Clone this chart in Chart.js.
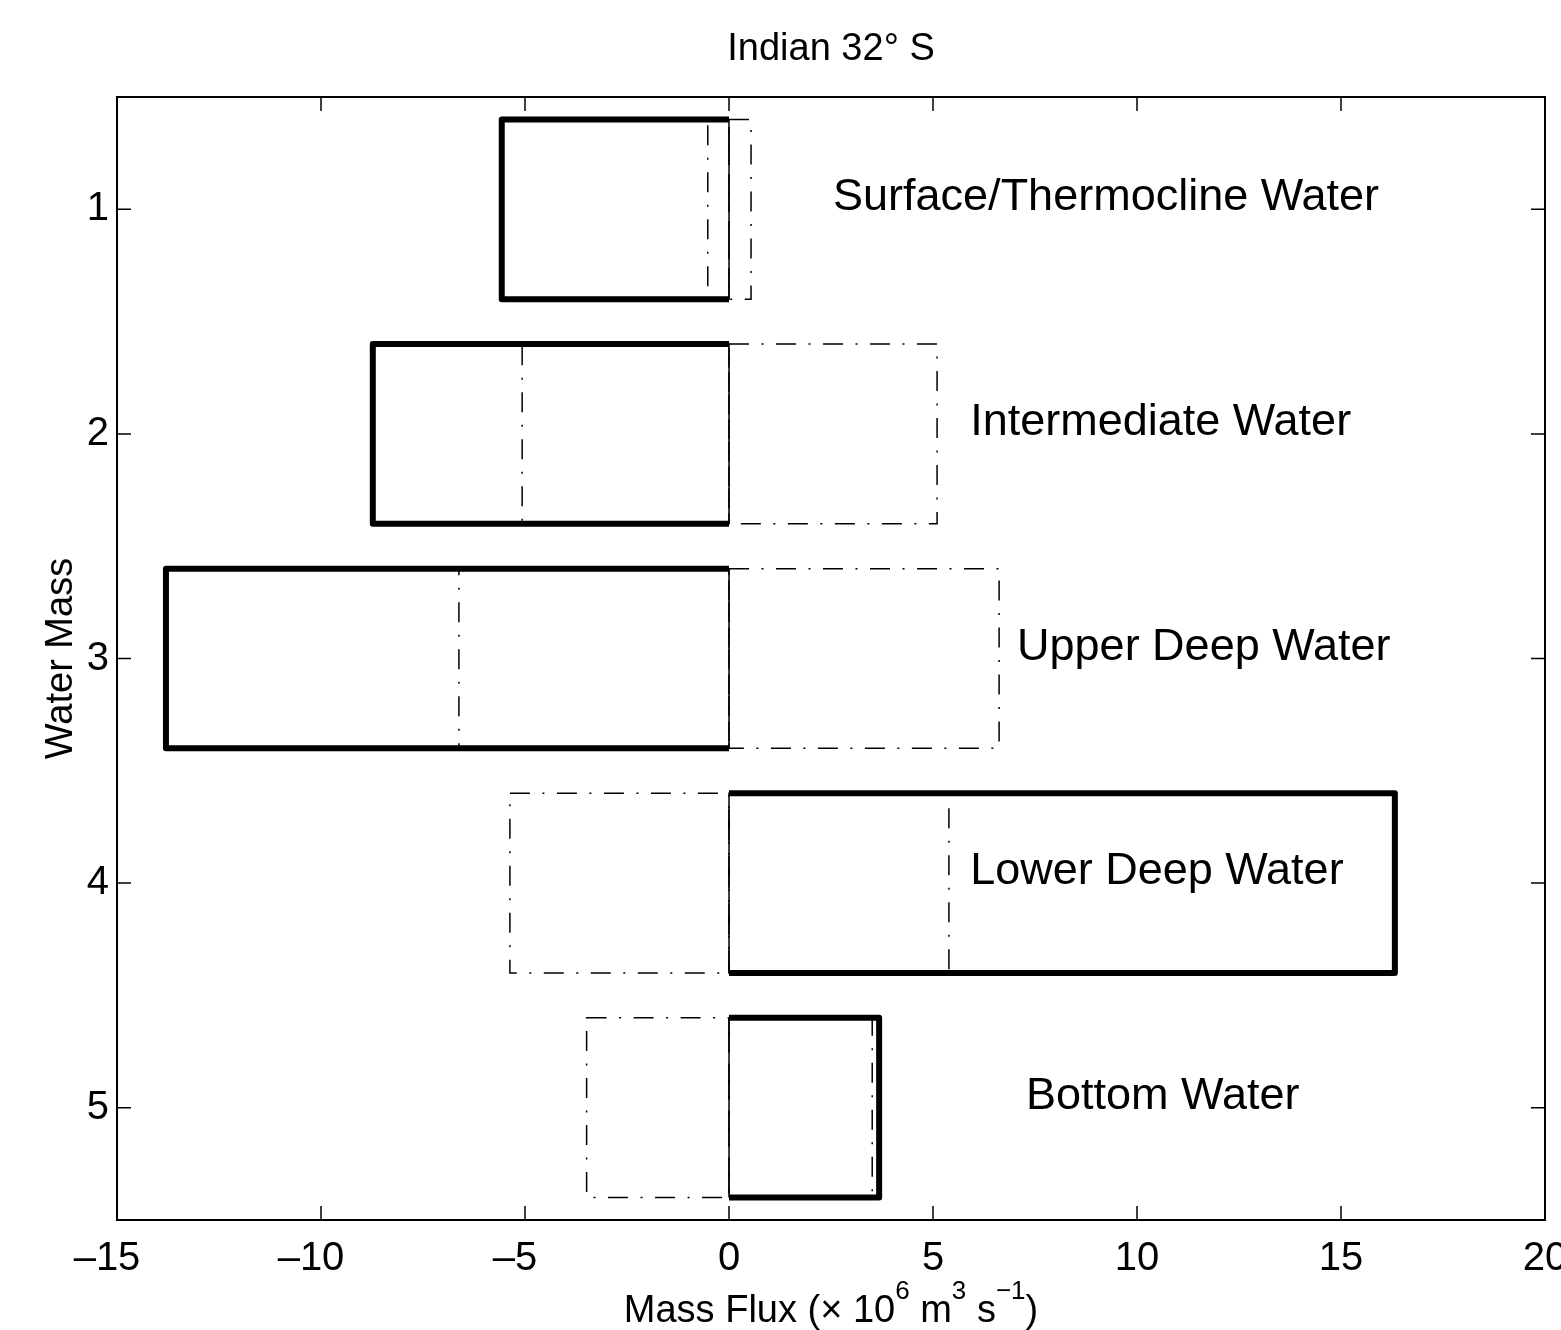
<!DOCTYPE html>
<html>
<head>
<meta charset="utf-8">
<script src="https://cdn.jsdelivr.net/npm/chart.js@4.4.1/dist/chart.umd.min.js"></script>
<style>
  html, body { margin: 0; padding: 0; background: #fff; }
</style>
</head>
<body>
<canvas id="graph_fluxo" width="1561" height="1330"></canvas>
<script>
// massas d'agua (eixo y) e fluxos em 10^6 m^3/s
const massas = ['1', '2', '3', '4', '5'];
const nomes = ['Surface/Thermocline Water', 'Intermediate Water', 'Upper Deep Water', 'Lower Deep Water', 'Bottom Water'];
const liquido = [-5.57, -8.73, -13.80, 16.32, 3.68];
const norte = [0.54, 5.10, 6.62, 5.39, 3.51];
const sul = [-0.52, -5.07, -6.62, -5.37, -3.49];
const ticks_x = [-15, -10, -5, 0, 5, 10, 15, 20];
const pos_nomes = [2.55, 5.91, 7.06, 5.91, 7.28];

const FONTE = 'Liberation Sans, Arial, Helvetica, sans-serif';
Chart.defaults.font.family = FONTE;
Chart.defaults.color = '#000';

// contornos das barras, textos, moldura e marcas para dentro
const plugin_extras = {
  id: 'extras',
  afterDatasetDraw(chart, args) {
    const ds = chart.data.datasets[args.index];
    const c = chart.ctx;
    c.save();
    c.strokeStyle = '#000';
    args.meta.data.forEach(el => {
      const p = el.getProps(['x', 'y', 'base', 'height'], true);
      const topo = p.y - p.height / 2, fundo = p.y + p.height / 2;
      if (ds.tracejado) {
        const esq = Math.min(p.x, p.base), dir = Math.max(p.x, p.base);
        c.setLineDash([20, 12.5, 2, 12.5]);
        c.lineWidth = 1.5;
        c.beginPath();
        c.rect(esq, topo, dir - esq, fundo - topo);
        c.stroke();
      } else {
        c.setLineDash([]);
        c.lineWidth = 6;
        c.lineJoin = 'round';
        c.beginPath();
        c.moveTo(p.base, topo);
        c.lineTo(p.x, topo);
        c.lineTo(p.x, fundo);
        c.lineTo(p.base, fundo);
        c.stroke();
        c.lineWidth = 1.5;
        c.beginPath();
        c.moveTo(p.base, topo);
        c.lineTo(p.base, fundo);
        c.stroke();
      }
    });
    c.restore();
  },
  afterDatasetsDraw(chart) {
    const c = chart.ctx;
    const sx = chart.scales.x, sy = chart.scales.y;
    c.save();
    c.font = '45px ' + FONTE;
    c.fillStyle = '#000';
    c.textAlign = 'left';
    c.textBaseline = 'alphabetic';
    for (let i = 0; i < nomes.length; i++) {
      c.fillText(nomes[i], sx.getPixelForValue(pos_nomes[i]), sy.getPixelForTick(i) + 1);
    }
    c.restore();
  },
  afterDraw(chart) {
    const c = chart.ctx;
    const a = chart.chartArea;
    const sx = chart.scales.x, sy = chart.scales.y;
    const tam = 14;
    c.save();
    c.strokeStyle = '#000';
    c.lineWidth = 1.5;
    c.beginPath();
    sx.ticks.forEach(t => {
      const px = sx.getPixelForValue(t.value);
      c.moveTo(px, a.bottom); c.lineTo(px, a.bottom - tam);
      c.moveTo(px, a.top); c.lineTo(px, a.top + tam);
    });
    for (let i = 0; i < massas.length; i++) {
      const py = sy.getPixelForTick(i);
      c.moveTo(a.left, py); c.lineTo(a.left + tam, py);
      c.moveTo(a.right, py); c.lineTo(a.right - tam, py);
    }
    c.stroke();
    c.lineWidth = 2;
    c.strokeRect(a.left, a.top, a.right - a.left, a.bottom - a.top);

    // titulo do eixo x com expoentes
    const partes = [
      ['Mass Flux (\u00d7 10', false], ['6', true], [' m', false], ['3', true],
      [' s', false], ['\u22121', true], [')', false]
    ];
    const f_normal = '38px ' + FONTE, f_sup = '26px ' + FONTE;
    let larg = 0;
    partes.forEach(p => { c.font = p[1] ? f_sup : f_normal; larg += c.measureText(p[0]).width; });
    let x = (a.left + a.right) / 2 - larg / 2;
    const base = a.bottom + 102;
    c.fillStyle = '#000';
    c.textBaseline = 'alphabetic';
    c.textAlign = 'left';
    partes.forEach(p => {
      c.font = p[1] ? f_sup : f_normal;
      c.fillText(p[0], x, p[1] ? base - 23 : base);
      x += c.measureText(p[0]).width;
    });
    c.restore();
  }
};

function renderiza_graph_fluxo() {
  const ctx = document.getElementById('graph_fluxo').getContext('2d');
  const grafico = new Chart(ctx, {
    type: 'bar',
    data: {
      labels: massas,
      datasets: [
        {
          label: 'Net',
          data: liquido,
          backgroundColor: 'rgba(0,0,0,0)',
          borderWidth: 0,
          order: 0
        },
        {
          label: 'Northward',
          data: norte,
          backgroundColor: 'rgba(0,0,0,0)',
          borderWidth: 0,
          tracejado: true,
          order: 1
        },
        {
          label: 'Southward',
          data: sul,
          backgroundColor: 'rgba(0,0,0,0)',
          borderWidth: 0,
          tracejado: true,
          order: 2
        }
      ]
    },
    options: {
      indexAxis: 'y',
      responsive: false,
      animation: false,
      events: [],
      grouped: false,
      barPercentage: 1.0,
      categoryPercentage: 0.8,
      layout: { padding: { left: 0, right: 16, top: 0, bottom: 0 } },
      plugins: {
        legend: { display: false },
        tooltip: { enabled: false },
        title: {
          display: true,
          fullSize: false,
          text: 'Indian 32\u00b0 S',
          color: '#000',
          font: { size: 38, weight: 'normal', family: FONTE },
          padding: { top: 27, bottom: 24.4 }
        }
      },
      scales: {
        x: {
          type: 'linear',
          min: -15,
          max: 20,
          grid: { display: false, drawTicks: false },
          border: { display: false },
          afterBuildTicks: (s) => { s.ticks = ticks_x.map(v => ({ value: v })); },
          ticks: {
            padding: 15,
            maxRotation: 0,
            autoSkip: false,
            font: { size: 40 },
            // o sinal fica para fora, os digitos centrados na marca
            callback: (v) => v < 0 ? '\u2013' + Math.abs(v) + '\u2002' : String(v)
          },
          afterFit: (s) => { s.height = 110; s.paddingLeft = 0; s.paddingRight = 0; }
        },
        y: {
          type: 'category',
          offset: true,
          grid: { display: false, drawTicks: false },
          border: { display: false },
          ticks: { padding: 8, font: { size: 40 } },
          title: {
            display: true,
            text: 'Water Mass',
            font: { size: 38 },
            padding: { top: 39, bottom: 0 }
          },
          afterFit: (s) => { s.width = 117; s.paddingTop = 0; s.paddingBottom = 0; }
        }
      }
    },
    plugins: [plugin_extras]
  });
  return grafico;
}

renderiza_graph_fluxo();
</script>
</body>
</html>
